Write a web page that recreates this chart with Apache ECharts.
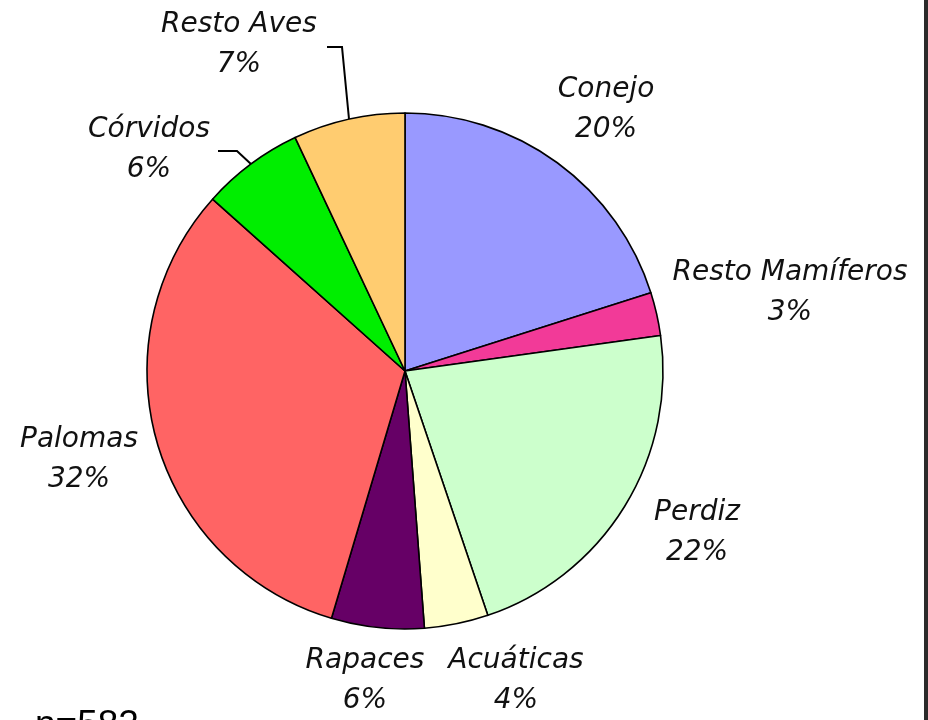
<!DOCTYPE html>
<html>
<head>
<meta charset="utf-8">
<script src="https://cdn.jsdelivr.net/npm/echarts@6/dist/echarts.min.js"></script>
<style>
html,body{margin:0;padding:0;background:#fff;}
#c{width:928px;height:720px;}
</style>
</head>
<body>
<div id="c"></div>
<script>
// Data (clockwise from 12 o'clock)
const categories = ['Conejo', 'Resto Mamíferos', 'Perdiz', 'Acuáticas', 'Rapaces', 'Palomas', 'Córvidos', 'Resto Aves'];
const values = [20.1, 2.7, 22.0, 4.0, 5.8, 32.0, 6.4, 7.0];
const colors = ['#9999ff', '#f23a98', '#ccffcc', '#ffffcc', '#660066', '#ff6464', '#00ee00', '#ffcc70'];
const sampleText = 'n=582';

// Layout (label block centers and leader lines)
const labelPos = [[606, 110], [790, 293], [697, 533], [516, 681], [365, 681], [79, 460], [149, 150], [239, 45]];
const leaders = {
  6: [[252, 165], [237, 151], [218, 151]],
  7: [[349, 119], [342, 47], [327, 47]]
};

const chart = echarts.init(document.getElementById('c'), null, {renderer: 'canvas'});
chart.setOption({
  backgroundColor: '#ffffff',
  animation: false,
  series: [{
    type: 'pie',
    center: [405, 371],
    radius: [0, 258],
    startAngle: 90,
    clockwise: true,
    avoidLabelOverlap: false,
    percentPrecision: 0,
    silent: true,
    itemStyle: {borderColor: '#000', borderWidth: 1.6},
    label: {
      show: true,
      position: 'outside',
      formatter: '{b}\n{d}%',
      fontFamily: 'DejaVu Sans',
      fontStyle: 'italic',
      fontSize: 28,
      lineHeight: 40,
      color: '#111',
      align: 'center'
    },
    labelLine: {show: false, lineStyle: {color: '#000', width: 2}},
    labelLayout: function (params) {
      const i = params.dataIndex;
      const p = labelPos[i];
      const o = {x: p[0], y: p[1], align: 'center', verticalAlign: 'middle'};
      if (leaders[i]) o.labelLinePoints = leaders[i];
      return o;
    },
    data: categories.map((name, i) => ({
      name: name,
      value: values[i],
      itemStyle: {color: colors[i]},
      labelLine: {show: !!leaders[i]}
    }))
  }],
  graphic: [
    {type: 'rect', shape: {x: 924, y: 0, width: 4, height: 720}, style: {fill: '#2b2b2b'}, silent: true},
    {type: 'text', x: 35, y: 707, style: {text: sampleText, fontFamily: 'Liberation Sans', fontSize: 37, fill: '#000', verticalAlign: 'top'}, silent: true}
  ]
});
</script>
</body>
</html>
